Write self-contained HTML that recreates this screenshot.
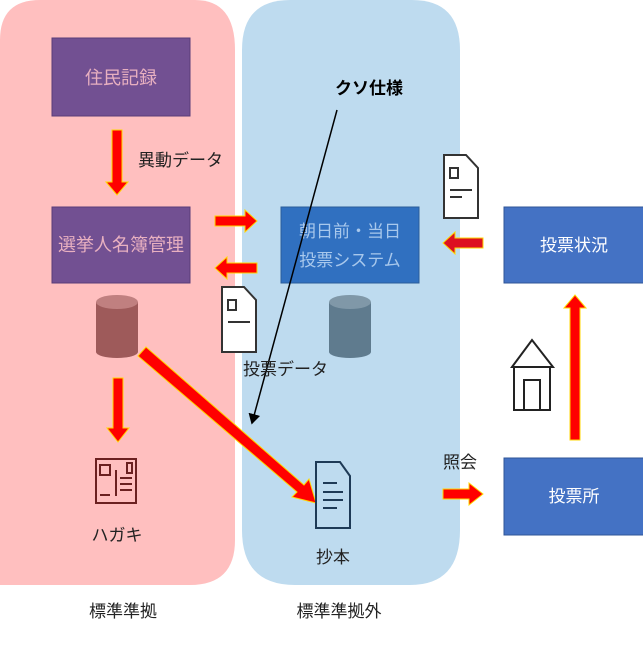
<!DOCTYPE html>
<html><head><meta charset="utf-8"><style>
body{margin:0;width:643px;height:643px;overflow:hidden;background:#fff;font-family:"Liberation Sans","Noto Sans CJK JP",sans-serif}
</style></head><body>
<svg width="643" height="643" viewBox="0 0 643 643" xmlns="http://www.w3.org/2000/svg" font-family="Liberation Sans, Noto Sans CJK JP, sans-serif">
<defs>
<marker id="ah" markerWidth="8" markerHeight="8" refX="6" refY="4" orient="auto"><path d="M0,0 L7,4 L0,8 z" fill="#000"/></marker>
</defs>
<path d="M0,40 Q0,0 40,0 H195 Q235,0 235,50 V540 Q235,585 190,585 H0 Z" fill="#ffbfbf"/>
<path d="M242,50 Q242,0 290,0 H412 Q460,0 460,50 V530 Q460,585 410,585 H295 Q242,585 242,530 Z" fill="#bedbef"/>
<rect x="52" y="38" width="138" height="78" fill="#725092" stroke="#5a3c78"/>
<text x="121" y="84" font-size="18" fill="#e8b0c0" text-anchor="middle">住民記録</text>
<rect x="52" y="207" width="138" height="76" fill="#725092" stroke="#5a3c78"/>
<text x="121" y="251" font-size="18" fill="#e8b0c0" text-anchor="middle">選挙人名簿管理</text>
<rect x="281" y="207" width="138" height="76" fill="#3070c0" stroke="#2a5c9a"/>
<text x="350" y="237" font-size="17" fill="#a8c8ec" text-anchor="middle">朝日前・当日</text>
<text x="350" y="266" font-size="17" fill="#a8c8ec" text-anchor="middle">投票システム</text>
<rect x="504" y="207" width="140" height="76" fill="#4472c4" stroke="#2f5597"/>
<text x="574" y="251" font-size="17" fill="#fff" text-anchor="middle">投票状況</text>
<rect x="504" y="458" width="140" height="77" fill="#4472c4" stroke="#2f5597"/>
<text x="574" y="502" font-size="17" fill="#fff" text-anchor="middle">投票所</text>
<g stroke="#ffd700" stroke-width="1" fill="#ff0000">
<path d="M112,130 H122 V182 H128 L117,195 L106,182 H112 Z"/>
<path d="M215,216 H245 V210 L257,221 L245,232 V226 H215 Z"/>
<path d="M257,263 H227 V257 L215,268 L227,279 V273 H257 Z"/>
<path d="M483,238 H455 V232 L443,243 L455,254 V248 H483 Z" fill="#dd1020"/>
<path d="M570,440 V308 H564 L575,295 L586,308 H580 V440 Z"/>
<path d="M113,378 H123 V428 H129 L118,442 L107,428 H113 Z"/>
<path d="M146,347 L304,485 L309,479 L316,503 L292,497 L297,492 L138,356 Z"/>
<path d="M443,489 H469 V483 L483,494 L469,505 V499 H443 Z"/>
</g>
<g>
<path d="M96,302 v50 a21,6 0 0 0 42,0 v-50 z" fill="#9e5a5a"/><ellipse cx="117" cy="302" rx="21" ry="7" fill="#c08080"/>
<path d="M329,302 v50 a21,6 0 0 0 42,0 v-50 z" fill="#5f7b8e"/><ellipse cx="350" cy="302" rx="21" ry="7" fill="#8098a8"/>
</g>
<line x1="337" y1="110" x2="252" y2="423" stroke="#000" stroke-width="1.5" marker-end="url(#ah)"/>
<text x="369" y="94" font-size="17" font-weight="bold" text-anchor="middle">クソ仕様</text>
<g fill="#fff" stroke="#333" stroke-width="2">
<path d="M444,155 H466 L478,168 V218 H444 Z"/><path d="M450,168 h8 v10 h-8z" fill="none"/><path d="M450,190 h22 M450,197 h12" fill="none"/>
<path d="M222,287 H244 L256,300 V352 H222 Z"/><path d="M228,300 h8 v10 h-8z" fill="none"/><path d="M228,322 h22" fill="none"/>
</g>
<g fill="none" stroke="#1e3a56" stroke-width="2">
<path d="M316,462 H340 L350,476 V528 H316 Z"/><path d="M323,483 h14 M323,492 h20 M323,500 h20 M323,508 h14"/>
</g>
<g fill="none" stroke="#6b2020" stroke-width="2">
<rect x="96" y="459" width="40" height="44"/><rect x="100" y="465" width="10" height="10"/><rect x="127" y="463" width="5" height="10"/><path d="M100,495 h10 M116,470 v26 M120,478 h12 M120,484 h12 M120,490 h12"/>
</g>
<g fill="none" stroke="#222" stroke-width="2">
<path d="M512,367 L532,340 L553,367 Z"/><path d="M514,367 V410 H550 V367"/><rect x="524" y="380" width="16" height="30"/>
</g>
<g font-size="17" fill="#222">
<text x="138" y="166">異動データ</text>
<text x="243" y="375">投票データ</text>
<text x="117" y="541" text-anchor="middle">ハガキ</text>
<text x="333" y="563" text-anchor="middle">抄本</text>
<text x="460" y="468" text-anchor="middle">照会</text>
<text x="123" y="617" text-anchor="middle">標準準拠</text>
<text x="339" y="617" text-anchor="middle">標準準拠外</text>
</g>
</svg>
</body></html>
